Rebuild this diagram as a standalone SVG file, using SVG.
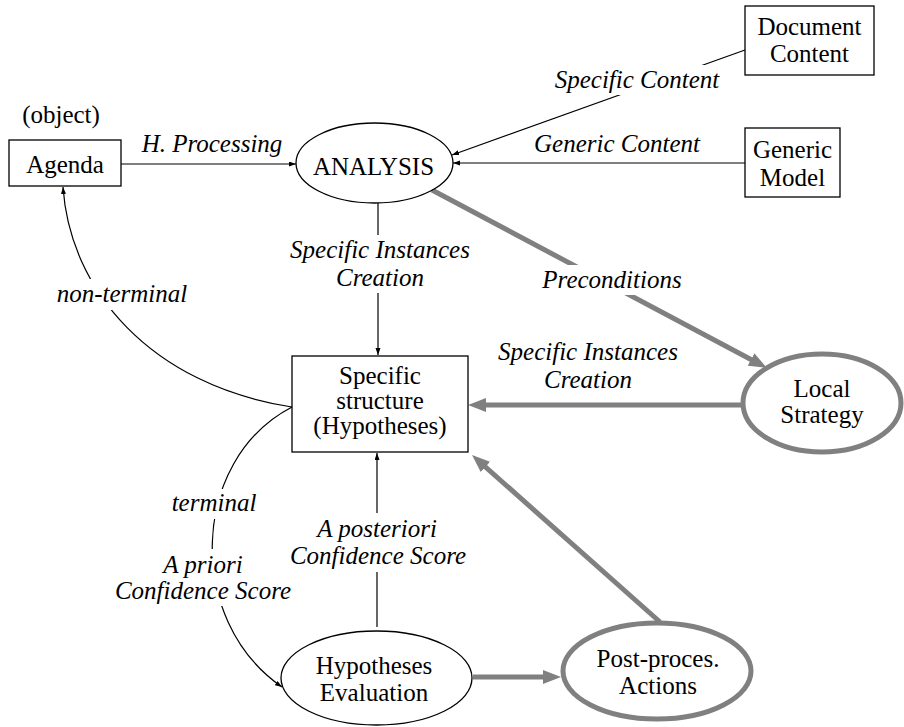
<svg xmlns="http://www.w3.org/2000/svg" width="904" height="727" viewBox="0 0 904 727" font-family="'Liberation Serif', Tinos, 'Times New Roman', serif">
<style>
text{font-family:"Liberation Serif",Tinos,"Times New Roman",Times,serif;font-size:25px;fill:#000;text-anchor:middle}
.it{font-style:italic}
.box{fill:#fff;stroke:#000;stroke-width:1.3}
.ell{fill:#fff;stroke:#000;stroke-width:1.3}
.gell{fill:#fff;stroke:#808080;stroke-width:5}
.thin{fill:none;stroke:#000;stroke-width:1.2;marker-end:url(#ah)}
.thick{fill:none;stroke:#808080;stroke-width:5;marker-end:url(#gh)}
.lbg{fill:#fff;stroke:none}
</style>
<defs>
<marker id="ah" markerUnits="userSpaceOnUse" markerWidth="8" markerHeight="6" refX="7" refY="2.5" orient="auto"><path d="M0,0 L7,2.5 L0,5 z" fill="#000"/></marker>
<marker id="gh" markerUnits="userSpaceOnUse" markerWidth="18" markerHeight="14" refX="10" refY="7" orient="auto"><path d="M0,0 L18,7 L0,14 z" fill="#808080"/></marker>
</defs>
<g id="connectors">
<path class="thin" d="M121,164 L296,164"/>
<path class="thin" d="M745,50 L452,155"/>
<path class="thin" d="M745,163 L453,163"/>
<path class="thin" d="M378,203 L378,355"/>
<path class="thin" d="M292,407 C150,385 70,290 63,187"/>
<path class="thin" d="M292,407 C190,460 185,620 282,687"/>
<path class="thin" d="M377,627 L377,453"/>
<path class="thick" d="M432,190 L759.9,364.2"/>
<path class="thick" d="M742,405 L476,405"/>
<path class="thick" d="M473,677 L553,677"/>
<path class="thick" d="M660,622 L478,460.3"/>
<rect class="lbg" x="553" y="65" width="168" height="30"/>
<rect class="lbg" x="287" y="235" width="185" height="58"/>
<rect class="lbg" x="538" y="265" width="148" height="30"/>
<rect class="lbg" x="55" y="279" width="134" height="31"/>
<rect class="lbg" x="170" y="489" width="89" height="30"/>
<rect class="lbg" x="113" y="549" width="181" height="57"/>
<rect class="lbg" x="290" y="513" width="177" height="59"/>
<text class="it" x="212" y="152">H. Processing</text>
<text class="it" x="637" y="88">Specific Content</text>
<text class="it" x="617" y="152">Generic Content</text>
<text class="it" x="380" y="258">Specific Instances</text>
<text class="it" x="380" y="286">Creation</text>
<text class="it" x="612" y="288">Preconditions</text>
<text class="it" x="588" y="360">Specific Instances</text>
<text class="it" x="588" y="388">Creation</text>
<text class="it" x="122" y="302">non-terminal</text>
<text class="it" x="214" y="511">terminal</text>
<text class="it" x="203" y="573">A priori</text>
<text class="it" x="203" y="599">Confidence Score</text>
<text class="it" x="377" y="537">A posteriori</text>
<text class="it" x="378" y="564">Confidence Score</text>
</g>
<g id="agenda">
<text x="61" y="123">(object)</text>
<rect class="box" x="9" y="140" width="112" height="46"/>
<text x="65" y="173">Agenda</text>
</g>
<g id="analysis">
<ellipse class="ell" cx="374.5" cy="163" rx="78.5" ry="40"/>
<text x="373.5" y="175">ANALYSIS</text>
</g>
<g id="document-content">
<rect class="box" x="745" y="6" width="129" height="69"/>
<text x="809.5" y="35">Document</text>
<text x="809.5" y="62">Content</text>
</g>
<g id="generic-model">
<rect class="box" x="745" y="128" width="95" height="69"/>
<text x="792.5" y="158">Generic</text>
<text x="792.5" y="186">Model</text>
</g>
<g id="specific-structure">
<rect class="box" x="292" y="356" width="176" height="96"/>
<text x="380" y="384">Specific</text>
<text x="380" y="409">structure</text>
<text x="380" y="434">(Hypotheses)</text>
</g>
<g id="local-strategy">
<ellipse class="gell" cx="822" cy="403" rx="79" ry="49"/>
<text x="822" y="397">Local</text>
<text x="822" y="423">Strategy</text>
</g>
<g id="hypotheses-evaluation">
<ellipse class="ell" cx="376.5" cy="678" rx="95.5" ry="47"/>
<text x="374" y="674">Hypotheses</text>
<text x="374" y="701">Evaluation</text>
</g>
<g id="post-proces-actions">
<ellipse class="gell" cx="657" cy="671" rx="94" ry="48"/>
<text x="658" y="667">Post-proces.</text>
<text x="658" y="694">Actions</text>
</g>
</svg>
